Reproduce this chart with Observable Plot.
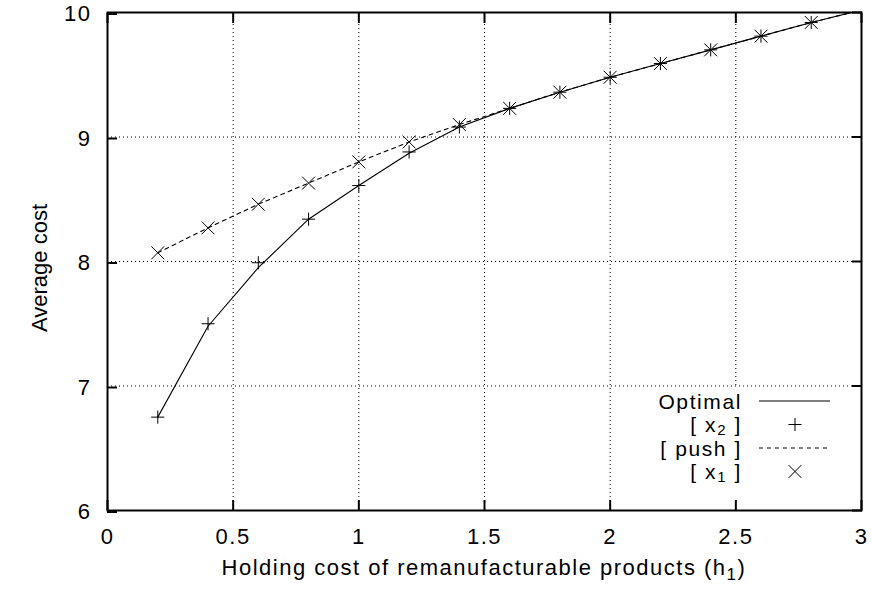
<!DOCTYPE html>
<html>
<head>
<meta charset="utf-8">
<script src="https://cdn.jsdelivr.net/npm/d3@7"></script>
<script src="https://cdn.jsdelivr.net/npm/@observablehq/plot@0.6"></script>
<style>
  html, body { margin: 0; padding: 0; background: #fff; }
  #chart svg { display: block; }
</style>
</head>
<body>
<div id="chart"></div>
<script>
// ---- data ----
const hValues     = [0.2, 0.4, 0.6, 0.8, 1.0, 1.2, 1.4, 1.6, 1.8, 2.0, 2.2, 2.4, 2.6, 2.8, 3.0];
const optimalCost = [6.75, 7.48, 7.95, 8.34, 8.61, 8.87, 9.08, 9.23, 9.36, 9.48, 9.59, 9.70, 9.81, 9.92, 10.02];
const x2Cost      = [6.75, 7.50, 7.99, 8.34, 8.61, 8.88, 9.08, 9.23, 9.36, 9.48, 9.59, 9.70, 9.81, 9.92];
const pushCost    = [8.07, 8.27, 8.46, 8.63, 8.80, 8.96, 9.10, 9.23, 9.36, 9.48, 9.59, 9.70, 9.81, 9.92, 10.02];
const x1Cost      = [8.07, 8.27, 8.46, 8.63, 8.80, 8.96, 9.10, 9.23, 9.36, 9.48, 9.59, 9.70, 9.81, 9.92];

const xTicks = [0, 0.5, 1, 1.5, 2, 2.5, 3];
const xTickLabels = ["0", "0.5", "1", "1.5", "2", "2.5", "3"];
const yTicks = [6, 7, 8, 9, 10];
const yTickLabels = ["6", "7", "8", "9", "10"];

const xLabelMain = "Holding cost of remanufacturable products (h";
const xLabelSub = "1";
const xLabelTail = ")";
const yLabel = "Average cost";

const legendNames = ["Optimal", "[ x", "[ push ]", "[ x"];
const legendSubs  = [null, "2", null, "1"];
const legendTails = [null, " ]", null, " ]"];
const legendKinds = ["solid", "plus", "dashed", "times"];

// ---- tables ----
const optimalData = hValues.map((h, i) => ({h, cost: optimalCost[i]}));
const pushData = hValues.map((h, i) => ({h, cost: pushCost[i]}));
const x2Data = x2Cost.map((c, i) => ({h: hValues[i], cost: c}));
const x1Data = x1Cost.map((c, i) => ({h: hValues[i], cost: c}));

const FONT = "'Liberation Sans', Arial, Helvetica, sans-serif";
const PLUS_R = 4.3;
const TIMES_R = 5.9;

function appendSubText(sel, main, sub, tail, shift, subSize) {
  sel.append("tspan").text(main);
  if (sub != null) {
    sel.append("tspan").attr("dy", shift).attr("font-size", subSize).text(sub);
    sel.append("tspan").attr("dy", -shift).text(tail);
  }
}

function legendMark(index, scales, values, dims) {
  const g = d3.create("svg:g");
  const right = dims.width - dims.marginRight;
  const bottom = dims.height - dims.marginBottom;
  g.append("rect")
    .attr("x", right - 212).attr("y", bottom - 123)
    .attr("width", 211).attr("height", 122)
    .attr("fill", "#fff");
  legendNames.forEach((name, i) => {
    const cy = bottom - 109 + i * 23.5;
    const t = g.append("text")
      .attr("x", right - 119).attr("y", cy + 7.5)
      .attr("text-anchor", "end").attr("fill", "#000")
      .attr("font-size", "21px").attr("letter-spacing", "1.6px");
    appendSubText(t, name, legendSubs[i], legendTails[i], 3, "15px");
    const kind = legendKinds[i];
    if (kind === "solid" || kind === "dashed") {
      g.append("line")
        .attr("x1", right - 102).attr("x2", right - 31)
        .attr("y1", cy).attr("y2", cy)
        .attr("stroke", "#000").attr("stroke-width", 1.1)
        .attr("stroke-dasharray", kind === "dashed" ? "4,4" : null);
    } else {
      const sym = kind === "plus" ? d3.symbolPlus : d3.symbolTimes;
      const r = kind === "plus" ? PLUS_R : TIMES_R;
      g.append("path")
        .attr("transform", `translate(${right - 66},${cy})`)
        .attr("d", d3.symbol(sym, Math.PI * r * r)())
        .attr("fill", "none").attr("stroke", "#000").attr("stroke-width", 1);
    }
  });
  return g.node();
}

function labelMark(index, scales, values, dims) {
  const g = d3.create("svg:g").attr("fill", "#000");
  const left = dims.marginLeft;
  const right = dims.width - dims.marginRight;
  const top = dims.marginTop;
  const bottom = dims.height - dims.marginBottom;
  const tx = g.append("text")
    .attr("x", (left + right) / 2).attr("y", dims.height - 14)
    .attr("text-anchor", "middle");
  appendSubText(tx, xLabelMain, xLabelSub, xLabelTail, 5, "17px");
  g.append("text")
    .attr("transform", `translate(47,${(top + bottom) / 2 + 7}) rotate(-90)`)
    .attr("text-anchor", "middle")
    .attr("letter-spacing", "0px")
    .text(yLabel);
  return g.node();
}

const gridStyle = {stroke: "#000", strokeOpacity: 1, strokeWidth: 1, strokeDasharray: "1,3"};

const chart = Plot.plot({
  width: 872,
  height: 589,
  marginLeft: 107,
  marginRight: 11,
  marginTop: 12,
  marginBottom: 79,
  style: {fontFamily: FONT, fontSize: "22px", letterSpacing: "1.5px", color: "#000", background: "#fff"},
  x: {domain: [0, 3]},
  y: {domain: [6, 10]},
  marks: [
    Plot.gridX(xTicks, gridStyle),
    Plot.gridY(yTicks, gridStyle),
    legendMark,
    Plot.line(pushData, {x: "h", y: "cost", stroke: "#000", strokeWidth: 1.1, strokeDasharray: "4,4", clip: true}),
    Plot.line(optimalData, {x: "h", y: "cost", stroke: "#000", strokeWidth: 1.1, clip: true}),
    Plot.dot(x2Data, {x: "h", y: "cost", symbol: "plus", r: PLUS_R, stroke: "#000", strokeWidth: 1}),
    Plot.dot(x1Data, {x: "h", y: "cost", symbol: "times", r: TIMES_R, stroke: "#000", strokeWidth: 1}),
    Plot.frame({stroke: "#000", strokeWidth: 2}),
    Plot.axisX(xTicks, {anchor: "bottom", tickSize: -10, tickPadding: 28, strokeWidth: 2, label: null,
      tickFormat: d => xTickLabels[xTicks.indexOf(d)]}),
    Plot.axisX(xTicks, {anchor: "top", tickSize: -10, strokeWidth: 2, label: null, tickFormat: () => ""}),
    Plot.axisY(yTicks, {anchor: "left", tickSize: -10, tickPadding: 26, dy: 1.5, strokeWidth: 2, label: null,
      tickFormat: d => yTickLabels[yTicks.indexOf(d)]}),
    Plot.axisY(yTicks, {anchor: "right", tickSize: -10, strokeWidth: 2, label: null, tickFormat: () => ""}),
    labelMark
  ]
});
document.getElementById("chart").appendChild(chart);
</script>
</body>
</html>
